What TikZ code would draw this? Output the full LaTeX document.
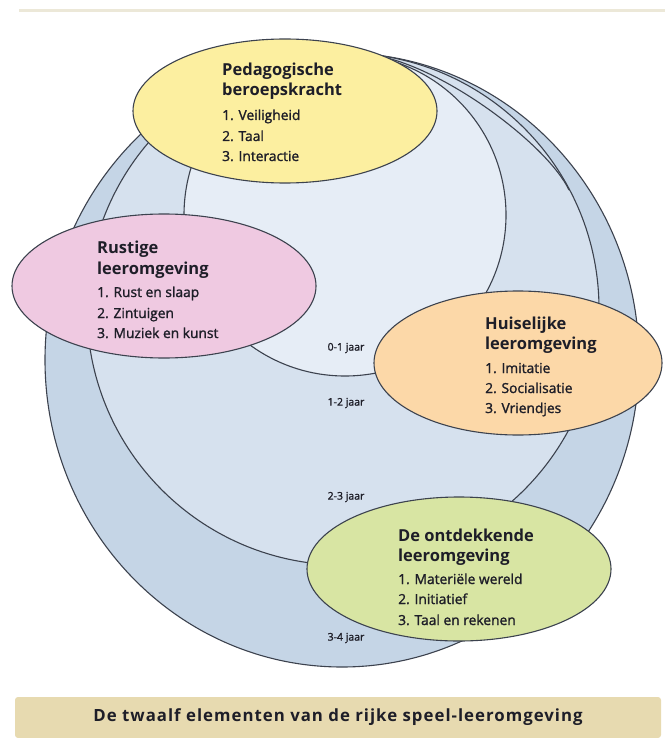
\documentclass[tikz,border=0pt]{standalone}
\usepackage{fontspec}
\setmainfont{Open Sans}
\newfontfamily\itmfont{Open Sans}[UprightFeatures={FakeBold=1.5}]
\newfontfamily\banfont{Open Sans}[LetterSpace=6]
\usetikzlibrary{shapes.geometric}
\definecolor{ylw}{RGB}{252,239,160}
\definecolor{pnk}{RGB}{239,201,225}
\definecolor{org}{RGB}{252,216,168}
\definecolor{grn}{RGB}{216,229,163}
\definecolor{bluA}{RGB}{197,213,230}
\definecolor{bluB}{RGB}{214,225,238}
\definecolor{bluC}{RGB}{230,237,246}
\definecolor{edge}{RGB}{60,66,78}
\definecolor{txt}{RGB}{30,30,40}
\definecolor{band}{RGB}{231,218,176}
\definecolor{rule}{RGB}{236,232,216}
\tikzset{
  zone/.style={draw=edge, line width=1.1pt},
  bubble/.style={ellipse, draw=edge, line width=1.1pt, inner sep=0pt, minimum width=304pt, minimum height=144pt},
  ttl/.style={anchor=base west, inner sep=0pt, text=txt, font=\fontsize{16.5}{20}\selectfont\bfseries},
  itm/.style={anchor=base west, inner sep=0pt, text=txt, font=\fontsize{13.8}{18}\itmfont},
  lbl/.style={anchor=center, inner sep=0pt, text=txt, font=\fontsize{10.5}{13}\itmfont},
}
\begin{document}
\begin{tikzpicture}[x=1pt,y=-1pt]
\useasboundingbox (0,0) rectangle (665,738);
% top rule
\coordinate (rl) at (19,11);
\coordinate (rr) at (665,11);
\draw[rule, line width=3pt] (rl) -- (rr);
% nested zones
\draw[zone, fill=bluA] (342,360) ellipse [x radius=297, y radius=307];
\draw[zone, fill=bluB] (343,309) circle (256);
\draw[zone] (383,57) .. controls (450,72) and (548,146) .. (569,190);
\draw[zone, fill=bluC] (345,215) circle (161);
% age labels
\node[lbl] (a1) at (346,348) {0-1 jaar};
\node[lbl] (a2) at (346,403) {1-2 jaar};
\node[lbl] (a3) at (346,497) {2-3 jaar};
\node[lbl] (a4) at (346,638) {3-4 jaar};
% bubbles
\node[bubble, fill=ylw] (ped) at (285,111) {};
\node[bubble, fill=pnk] (rus) at (164,286) {};
\node[bubble, fill=org, minimum width=288pt] (hui) at (518,363) {};
\node[bubble, fill=grn] (ont) at (459,569) {};
% texts
\node[ttl] (p1) at (222,76) {Pedagogische};
\node[ttl] (p2) at (222,96) {beroepskracht};
\node[itm] (p3) at (222,120) {1. Veiligheid};
\node[itm] (p4) at (222,141) {2. Taal};
\node[itm] (p5) at (222,161) {3. Interactie};
\node[ttl] (r1) at (97,253) {Rustige};
\node[ttl] (r2) at (97,274) {leeromgeving};
\node[itm] (r3) at (97,297) {1. Rust en slaap};
\node[itm] (r4) at (97,318) {2. Zintuigen};
\node[itm] (r5) at (97,338) {3. Muziek en kunst};
\node[ttl] (h1) at (485,329) {Huiselijke};
\node[ttl] (h2) at (485,349) {leeromgeving};
\node[itm] (h3) at (485,373) {1. Imitatie};
\node[itm] (h4) at (485,393) {2. Socialisatie};
\node[itm] (h5) at (485,413) {3. Vriendjes};
\node[ttl] (d1) at (398,541) {De ontdekkende};
\node[ttl] (d2) at (398,561) {leeromgeving};
\node[itm] (d3) at (398,584) {1. Materiële wereld};
\node[itm] (d4) at (398,604) {2. Initiatief};
\node[itm] (d5) at (398,625) {3. Taal en rekenen};
% bottom banner
\fill[band, rounded corners=3pt] (15,697) rectangle (661,738);
\node[anchor=center, inner sep=0pt, text=txt, font=\fontsize{16.8}{20}\banfont\bfseries] (ban) at (338,717) {De twaalf elementen van de rijke speel-leeromgeving};
\end{tikzpicture}
\end{document}
